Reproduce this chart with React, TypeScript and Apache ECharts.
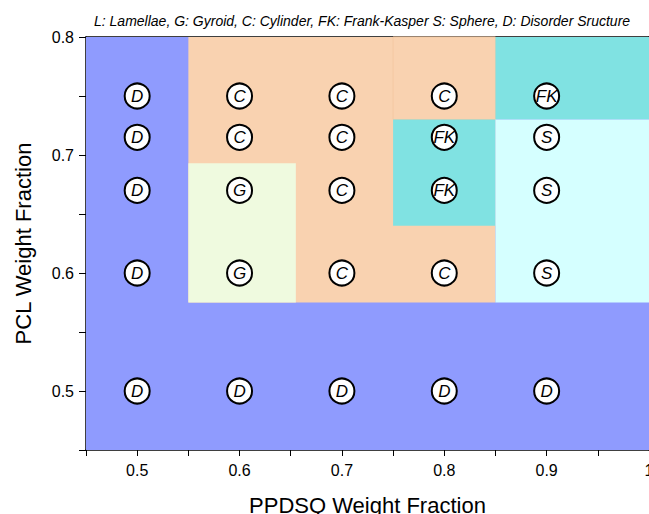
import React, { useEffect, useRef } from "react";
import * as echarts from "echarts";

// Sample grid (marker positions)
const xValues = [0.5, 0.6, 0.7, 0.8, 0.9];
const yValues = [0.75, 0.715, 0.67, 0.6, 0.5];
// Phase labels, one row per yValue, one column per xValue
const phaseRows = [
  ["D", "C", "C", "C", "FK"],
  ["D", "C", "C", "FK", "S"],
  ["D", "G", "C", "FK", "S"],
  ["D", "G", "C", "C", "S"],
  ["D", "D", "D", "D", "D"],
];

// Phase regions (drawn in order)
const regionNames = ["D", "C", "C2", "G", "FK1", "FK2", "S"];
const regionX0 = [0.45, 0.55, 0.75, 0.55, 0.85, 0.75, 0.85];
const regionX1 = [1.0, 0.85, 0.85, 0.655, 1.0, 0.85, 1.0];
const regionY0 = [0.45, 0.575, 0.73, 0.575, 0.73, 0.64, 0.575];
const regionY1 = [0.8, 0.8, 0.8, 0.693, 0.8, 0.73, 0.73];
const regionColors = ["#8f9bfe", "#f9d2b0", "#f9d2b0", "#effadf", "#80e2e2", "#80e2e2", "#d5ffff"];
const regionBorders = ["none", "none", "#f4c9a2", "none", "none", "none", "none"];

const titleText =
  "L: Lamellae, G: Gyroid, C: Cylinder, FK: Frank-Kasper S: Sphere, D: Disorder Sructure";
const xName = "PPDSQ Weight Fraction";
const yName = "PCL Weight Fraction";

const FONT = "'Liberation Sans', Arial, sans-serif";

function fmt(v: number): string {
  const t = Math.round(v * 100);
  if (t % 10 !== 0) return "";
  if (t === 100) return "1";
  return (t / 100).toFixed(1);
}

export default function App() {
  const ref = useRef<HTMLDivElement>(null);
  useEffect(() => {
    if (!ref.current) return;
    const chart = echarts.init(ref.current, undefined, { renderer: "svg" });

    const regionData = regionNames.map((_, i) => [
      regionX0[i],
      regionX1[i],
      regionY0[i],
      regionY1[i],
      i,
    ]);
    const pointData: any[] = [];
    yValues.forEach((y, r) => {
      xValues.forEach((x, c) => {
        pointData.push([x, y, phaseRows[r][c]]);
      });
    });

    const axisLineStyle = { color: "#000", width: 1.5 };

    chart.setOption({
      animation: false,
      title: {
        text: titleText,
        left: 89,
        top: 9,
        textStyle: {
          fontSize: 14,
          fontStyle: "italic",
          fontWeight: "normal",
          color: "#000",
          fontFamily: FONT,
        },
      },
      grid: { left: 86, top: 37, width: 563, height: 413, outerBoundsMode: "none", containLabel: false },
      xAxis: [
        {
          type: "value",
          position: "bottom",
          min: 0.45,
          max: 1.0,
          interval: 0.05,
          name: xName,
          nameLocation: "middle",
          nameGap: 44,
          nameTextStyle: { fontSize: 22, color: "#000", fontFamily: FONT },
          axisLine: { show: true, onZero: false, lineStyle: axisLineStyle },
          axisTick: { show: true, inside: false, length: 6, lineStyle: { color: "#000", width: 1 } },
          axisLabel: { formatter: fmt, fontSize: 16, color: "#000", fontFamily: FONT, margin: 12, showMaxLabel: true },
          splitLine: { show: false },
        },
        {
          type: "value",
          position: "top",
          min: 0.45,
          max: 1.0,
          axisLine: { show: true, onZero: false, lineStyle: axisLineStyle },
          axisTick: { show: false },
          axisLabel: { show: false },
          splitLine: { show: false },
        },
      ],
      yAxis: [
        {
          type: "value",
          position: "left",
          min: 0.45,
          max: 0.8,
          interval: 0.05,
          name: yName,
          nameLocation: "middle",
          nameGap: 52,
          nameRotate: 90,
          nameTextStyle: { fontSize: 22, color: "#000", fontFamily: FONT },
          axisLine: { show: true, onZero: false, lineStyle: axisLineStyle },
          axisTick: { show: true, inside: false, length: 7, lineStyle: { color: "#000", width: 1 } },
          axisLabel: { formatter: fmt, fontSize: 16, color: "#000", fontFamily: FONT, margin: 12 },
          splitLine: { show: false },
        },
        {
          type: "value",
          position: "right",
          min: 0.45,
          max: 0.8,
          axisLine: { show: true, onZero: false, lineStyle: axisLineStyle },
          axisTick: { show: false },
          axisLabel: { show: false },
          splitLine: { show: false },
        },
      ],
      series: [
        {
          type: "custom",
          xAxisIndex: 0,
          yAxisIndex: 0,
          z: 1,
          silent: true,
          encode: { x: [0, 1], y: [2, 3] },
          data: regionData,
          renderItem: (params: any, api: any) => {
            const p0 = api.coord([api.value(0), api.value(3)]);
            const p1 = api.coord([api.value(1), api.value(2)]);
            const idx = api.value(4);
            const border = regionBorders[idx];
            return {
              type: "rect",
              shape: { x: p0[0], y: p0[1], width: p1[0] - p0[0], height: p1[1] - p0[1] },
              style: {
                fill: regionColors[idx],
                stroke: border === "none" ? null : border,
                lineWidth: border === "none" ? 0 : 1,
              },
            };
          },
        },
        {
          type: "scatter",
          xAxisIndex: 0,
          yAxisIndex: 0,
          z: 5,
          symbol: "circle",
          symbolSize: 25,
          silent: true,
          itemStyle: { color: "#fff", borderColor: "#000", borderWidth: 2, opacity: 1 },
          label: {
            show: true,
            position: "inside",
            formatter: (p: any) => p.value[2],
            color: "#000",
            fontSize: 17,
            fontStyle: "italic",
            fontFamily: FONT,
          },
          emphasis: { disabled: true },
          data: pointData,
        },
      ],
    });
    return () => chart.dispose();
  }, []);
  return (
    <div
      ref={ref}
      style={{ position: "fixed", left: 0, top: 0, width: 649, height: 514, background: "#fff" }}
    />
  );
}
